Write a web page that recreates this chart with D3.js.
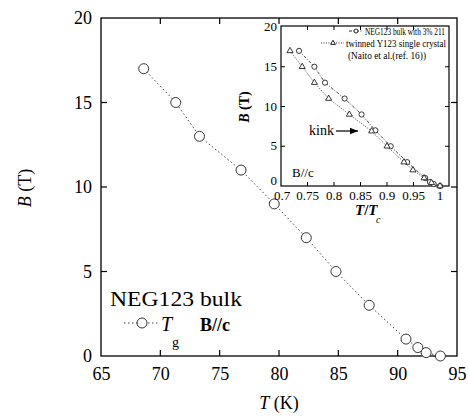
<!DOCTYPE html>
<html>
<head>
<meta charset="utf-8">
<script src="https://cdn.jsdelivr.net/npm/d3@7"></script>
<style>
  body { margin: 0; background: #fff; }
  svg, svg text { font-family: "Liberation Serif", "Times New Roman", Times, "DejaVu Serif", serif; }
</style>
</head>
<body>
<svg id="chart" width="468" height="418"></svg>
<script>
// main plot: T_g of NEG123 bulk, B//c
const mainT = [68.6, 71.3, 73.3, 76.8, 79.6, 82.3, 84.8, 87.6, 90.7, 91.7, 92.4, 93.6];
const mainB = [17, 15, 13, 11, 9, 7, 5, 3, 1, 0.5, 0.2, 0];
const mainXTicks = [65, 70, 75, 80, 85, 90, 95];
const mainYTicks = [0, 5, 10, 15, 20];

// inset: reduced temperature
const negT = [0.734, 0.763, 0.783, 0.820, 0.852, 0.878, 0.907, 0.938, 0.972, 0.981, 0.988, 1.0];
const negB = [17, 15, 13, 11, 9, 7, 5, 3, 1, 0.5, 0.25, 0];
const y123T = [0.717, 0.740, 0.763, 0.790, 0.829, 0.871, 0.900, 0.932, 0.949, 0.970, 0.984, 1.0];
const y123B = [17, 15, 13, 11, 9, 6.9, 5, 3, 2, 1, 0.4, 0];
const insetXTicks = [0.7, 0.75, 0.8, 0.85, 0.9, 0.95, 1];
const insetYTicks = [0, 5, 10, 15, 20];

const svg = d3.select('#chart');
const serif = '"Liberation Serif", "Times New Roman", Times, serif';

// ---- main axes
const x = d3.scaleLinear().domain([65, 95]).range([101, 457]);
const y = d3.scaleLinear().domain([0, 20]).range([356, 18]);

svg.append('rect')
  .attr('x', 101).attr('y', 18).attr('width', 356).attr('height', 338)
  .attr('fill', 'none').attr('stroke', '#000').attr('stroke-width', 1.3);

const tl = 6;
const inner = v => v !== 65 && v !== 95;
const innerY = v => v !== 0 && v !== 20;

svg.append('g').attr('transform', 'translate(0,356)')
  .call(d3.axisBottom(x).tickValues(mainXTicks).tickSize(0).tickPadding(11).tickFormat(d3.format('d')))
  .call(g => g.select('.domain').remove())
  .call(g => g.attr('font-family', serif).attr('font-size', 18))
  .call(g => g.selectAll('text').attr('fill', '#000'));

svg.append('g').attr('transform', 'translate(101,0)')
  .call(d3.axisLeft(y).tickValues(mainYTicks).tickSize(0).tickPadding(9).tickFormat(d3.format('d')))
  .call(g => g.select('.domain').remove())
  .call(g => g.attr('font-family', serif).attr('font-size', 18))
  .call(g => g.selectAll('text').attr('fill', '#000'));

const ticks = svg.append('g').attr('stroke', '#000').attr('stroke-width', 1.2);
mainXTicks.filter(inner).forEach(v => {
  ticks.append('line').attr('x1', x(v)).attr('x2', x(v)).attr('y1', 356).attr('y2', 356 - tl);
  ticks.append('line').attr('x1', x(v)).attr('x2', x(v)).attr('y1', 18).attr('y2', 18 + tl);
});
mainYTicks.filter(innerY).forEach(v => {
  ticks.append('line').attr('x1', 101).attr('x2', 101 + tl).attr('y1', y(v)).attr('y2', y(v));
  ticks.append('line').attr('x1', 457).attr('x2', 457 - tl).attr('y1', y(v)).attr('y2', y(v));
});

// axis titles
svg.append('text').attr('x', 279).attr('y', 409).attr('text-anchor', 'middle').attr('font-size', 18)
  .html('<tspan font-style="italic">T</tspan> (K)');
svg.append('text').attr('transform', 'translate(31,188) rotate(-90)').attr('text-anchor', 'middle').attr('font-size', 18)
  .html('<tspan font-style="italic">B</tspan> (T)');

// main data
const line = d3.line().x(d => x(d[0])).y(d => y(d[1]));
const mainPts = d3.zip(mainT, mainB);
svg.append('path').datum(mainPts).attr('d', line)
  .attr('fill', 'none').attr('stroke', '#444').attr('stroke-width', 1).attr('stroke-dasharray', '1.5,2.5');
svg.append('g').selectAll('circle').data(mainPts).join('circle')
  .attr('cx', d => x(d[0])).attr('cy', d => y(d[1])).attr('r', 5)
  .attr('fill', '#fff').attr('stroke', '#333').attr('stroke-width', 1);

// main labels / legend
svg.append('text').attr('x', 110).attr('y', 306).attr('font-size', 22)
  .attr('textLength', 132).attr('lengthAdjust', 'spacingAndGlyphs').text('NEG123 bulk');
svg.append('line').attr('x1', 124).attr('x2', 158).attr('y1', 323).attr('y2', 323)
  .attr('stroke', '#444').attr('stroke-dasharray', '1.5,2.5');
svg.append('circle').attr('cx', 142).attr('cy', 323).attr('r', 5)
  .attr('fill', '#fff').attr('stroke', '#333');
svg.append('text').attr('x', 161).attr('y', 331).attr('font-size', 20).attr('font-style', 'italic').text('T');
svg.append('text').attr('x', 172).attr('y', 347).attr('font-size', 14).text('g');
svg.append('text').attr('x', 200).attr('y', 331).attr('font-size', 18).attr('font-weight', 'bold').text('B//c');

// ---- inset
const ix = d3.scaleLinear().domain([0.7, 1]).range([281, 440]);
const iy = d3.scaleLinear().domain([0, 20]).range([186, 27]);
const ix0 = 281, ix1 = 449, iy0 = 26, iy1 = 186;

svg.append('rect').attr('x', ix0).attr('y', iy0).attr('width', ix1 - ix0).attr('height', iy1 - iy0)
  .attr('fill', '#fff').attr('stroke', '#000').attr('stroke-width', 1.2);

const it = svg.append('g').attr('stroke', '#000').attr('stroke-width', 1);
insetXTicks.slice(1, -1).forEach(v => {
  it.append('line').attr('x1', ix(v)).attr('x2', ix(v)).attr('y1', iy1).attr('y2', iy1 - 4);
  it.append('line').attr('x1', ix(v)).attr('x2', ix(v)).attr('y1', iy0).attr('y2', iy0 + 4);
});
insetYTicks.slice(1, -1).forEach(v => {
  it.append('line').attr('x1', ix0).attr('x2', ix0 + 4).attr('y1', iy(v)).attr('y2', iy(v));
  it.append('line').attr('x1', ix1).attr('x2', ix1 - 4).attr('y1', iy(v)).attr('y2', iy(v));
});

svg.append('g').selectAll('text').data(insetXTicks).join('text')
  .attr('x', d => ix(d) + (d === 0.7 ? 1 : 0)).attr('y', 200).attr('text-anchor', 'middle').attr('font-size', 13)
  .text(d => d === 1 ? '1' : d3.format('.2~f')(d));
svg.append('g').selectAll('text').data(insetYTicks).join('text')
  .attr('x', ix0 - 4).attr('y', d => iy(d) + (d === 0 ? -1 : 4)).attr('text-anchor', 'end').attr('font-size', 13)
  .text(d => d);

svg.append('text').attr('transform', 'translate(249,107) rotate(-90)').attr('text-anchor', 'middle')
  .attr('font-size', 14).attr('font-weight', 'bold')
  .html('<tspan font-style="italic">B</tspan> (T)');
svg.append('text').attr('x', 355).attr('y', 215).attr('font-size', 15).attr('font-weight', 'bold')
  .html('<tspan font-style="italic">T</tspan>/<tspan font-style="italic">T</tspan>');
svg.append('text').attr('x', 376).attr('y', 223).attr('font-size', 10).attr('font-style', 'italic').text('c');

const iline = d3.line().x(d => ix(d[0])).y(d => iy(d[1]));
const negPts = d3.zip(negT, negB);
const yPts = d3.zip(y123T, y123B);
svg.append('path').datum(negPts).attr('d', iline)
  .attr('fill', 'none').attr('stroke', '#333').attr('stroke-width', 0.9).attr('stroke-dasharray', '3,1.5,1,1.5');
svg.append('path').datum(yPts).attr('d', iline)
  .attr('fill', 'none').attr('stroke', '#333').attr('stroke-width', 0.9).attr('stroke-dasharray', '1,1.5');
svg.append('g').selectAll('circle').data(negPts).join('circle')
  .attr('cx', d => ix(d[0])).attr('cy', d => iy(d[1])).attr('r', 2.6)
  .attr('fill', '#fff').attr('stroke', '#222').attr('stroke-width', 0.9);
const tri = d3.symbol().type(d3.symbolTriangle).size(16);
svg.append('g').selectAll('path').data(yPts).join('path')
  .attr('transform', d => `translate(${ix(d[0])},${iy(d[1])})`).attr('d', tri)
  .attr('fill', '#fff').attr('stroke', '#222').attr('stroke-width', 0.9);

// inset legend
svg.append('line').attr('x1', 349).attr('x2', 363).attr('y1', 31).attr('y2', 31)
  .attr('stroke', '#333').attr('stroke-dasharray', '3,1.5,1,1.5');
svg.append('circle').attr('cx', 356).attr('cy', 31).attr('r', 2).attr('fill', '#fff').attr('stroke', '#222');
svg.append('text').attr('x', 365).attr('y', 35).attr('font-size', 11)
  .attr('textLength', 80).attr('lengthAdjust', 'spacingAndGlyphs').text('NEG123 bulk with 3% 211');
svg.append('line').attr('x1', 321).attr('x2', 344).attr('y1', 43).attr('y2', 43)
  .attr('stroke', '#333').attr('stroke-dasharray', '1,1.5');
svg.append('path').attr('transform', 'translate(333,43)').attr('d', d3.symbol().type(d3.symbolTriangle).size(10))
  .attr('fill', '#fff').attr('stroke', '#222');
svg.append('text').attr('x', 346).attr('y', 47).attr('font-size', 11)
  .attr('textLength', 100).attr('lengthAdjust', 'spacingAndGlyphs').text('twinned Y123 single crystal');
svg.append('text').attr('x', 348).attr('y', 59).attr('font-size', 11)
  .attr('textLength', 78).attr('lengthAdjust', 'spacingAndGlyphs').text('(Naito et al.(ref. 16))');

// kink annotation
svg.append('text').attr('x', 309).attr('y', 135).attr('font-size', 14).text('kink');
svg.append('defs').append('marker').attr('id', 'ah').attr('viewBox', '0 0 10 10')
  .attr('refX', 10).attr('refY', 5).attr('markerWidth', 7).attr('markerHeight', 7).attr('orient', 'auto')
  .append('path').attr('d', 'M0,1L10,5L0,9z').attr('fill', '#000');
svg.append('line').attr('x1', 336).attr('x2', 358).attr('y1', 131).attr('y2', 131)
  .attr('stroke', '#000').attr('stroke-width', 1.2).attr('marker-end', 'url(#ah)');

svg.append('text').attr('x', 292).attr('y', 177).attr('font-size', 13).text('B//c');
</script>
</body>
</html>
